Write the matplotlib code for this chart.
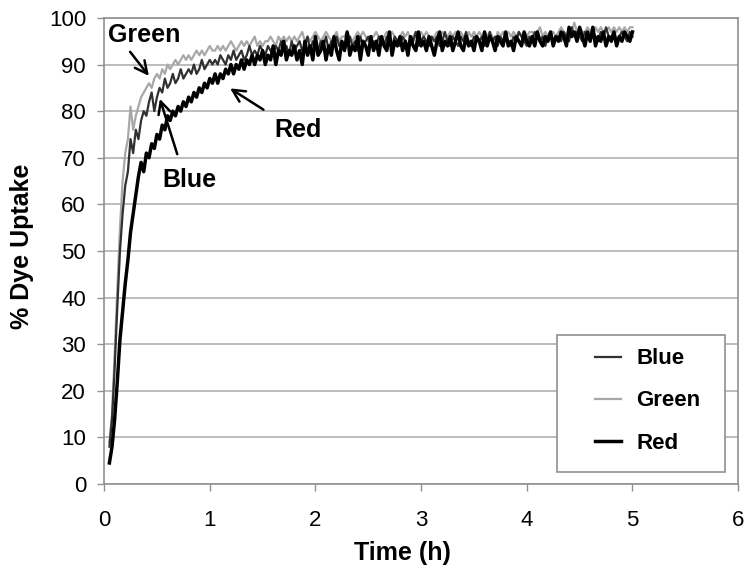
import numpy as np
import matplotlib
matplotlib.use('Agg')
import matplotlib.pyplot as plt
from matplotlib.patches import Rectangle

plt.rcParams['font.family'] = ['Liberation Sans', 'DejaVu Sans']

# sampling times (h), one reading every 0.025 h
time_h = np.round(0.05 + 0.025 * np.arange(199), 3)

blue = [
    8, 14, 25, 38, 50, 58, 64, 67, 74, 71,
    76, 74, 78, 80, 79, 82, 84, 80, 83, 85,
    84, 87, 85, 86, 88, 86, 87, 89, 87, 88,
    89, 88, 90, 88, 89, 91, 89, 90, 91, 90,
    91, 90, 92, 91, 90, 92, 91, 93, 91, 92,
    93, 91, 92, 94, 92, 93, 92, 94, 93, 92,
    94, 93, 92, 94, 93, 95, 93, 94, 92, 95,
    93, 94, 95, 93, 94, 96, 93, 95, 94, 93,
    95, 94, 96, 93, 95, 94, 96, 94, 95, 93,
    95, 96, 94, 95, 93, 96, 94, 95, 96, 94,
    95, 94, 96, 95, 94, 96, 95, 94, 96, 95,
    94, 96, 95, 94, 96, 95, 97, 94, 95, 96,
    95, 94, 96, 95, 96, 94, 95, 97, 95, 94,
    96, 95, 94, 96, 95, 97, 95, 94, 96, 95,
    95, 96, 94, 95, 97, 95, 96, 94, 96, 95,
    96, 95, 94, 96, 95, 97, 96, 95, 94, 96,
    95, 97, 96, 95, 96, 94, 96, 97, 95, 96,
    96, 95, 97, 96, 95, 98, 96, 97, 96, 95,
    97, 96, 95, 97, 96, 95, 97, 96, 98, 96,
    96, 97, 95, 96, 97, 96, 95, 97, 96,
]

green = [
    9, 15, 28, 42, 55, 65, 71, 74, 81, 76,
    79, 81, 83, 84, 85, 86, 85, 87, 88, 87,
    89, 88, 90, 89, 90, 91, 90, 91, 92, 91,
    92, 91, 92, 93, 92, 93, 92, 93, 94, 93,
    93, 94, 93, 94, 93, 94, 95, 94, 93, 94,
    95, 94, 95, 94, 95, 96, 94, 95, 94, 95,
    95, 96, 95, 94, 96, 95, 96, 95, 96, 95,
    96, 95, 96, 97, 95, 96, 95, 96, 97, 96,
    95, 96, 97, 96, 95, 96, 97, 95, 96, 96,
    97, 96, 95, 96, 97, 96, 97, 96, 95, 96,
    96, 97, 96, 95, 96, 97, 96, 97, 96, 95,
    96, 97, 96, 97, 95, 96, 97, 96, 97, 96,
    97, 96, 95, 96, 97, 96, 97, 96, 96, 97,
    96, 97, 96, 97, 96, 95, 97, 96, 97, 96,
    97, 96, 97, 96, 97, 96, 95, 97, 96, 97,
    96, 97, 96, 97, 96, 97, 96, 97, 96, 97,
    97, 96, 97, 98, 96, 97, 96, 97, 97, 96,
    97, 98, 97, 96, 98, 97, 99, 97, 98, 97,
    97, 98, 97, 96, 98, 97, 98, 97, 97, 98,
    97, 98, 97, 98, 97, 98, 97, 98, 98,
]

red = [
    4.5, 8, 14, 22, 31, 37, 43, 48, 54, 58,
    62, 66, 69, 67, 71, 70, 73, 72, 75, 74,
    77, 76, 79, 78, 80, 79, 81, 80, 82, 81,
    83, 82, 84, 83, 85, 84, 86, 85, 87, 86,
    88, 86, 88, 87, 89, 88, 90, 88, 90, 89,
    91, 89, 91, 90, 92, 90, 92, 91, 93, 90,
    92, 91, 94, 90, 93, 92, 95, 91, 93, 92,
    94, 91, 93, 90, 95, 92, 94, 91, 96, 92,
    93, 95, 91, 94, 92, 96, 93, 91, 95, 93,
    97, 92, 94, 93, 96, 91, 95, 94, 92, 96,
    93, 95, 92, 96, 94, 93, 97, 92, 95, 94,
    96, 93, 95, 92, 96, 94, 93, 97, 94, 95,
    93, 96, 94, 92, 95, 97, 93, 95, 94, 96,
    93, 95, 97, 94, 93, 96, 94, 95, 93, 96,
    95, 93, 97, 94, 96, 95, 93, 96, 95, 94,
    97, 94, 95, 93, 96, 95, 94, 97, 95, 94,
    96, 94, 97, 95, 94, 96, 95, 97, 94, 96,
    95, 97, 96, 94, 98, 96, 97, 95, 98, 96,
    94, 97, 95, 98, 94, 96, 95, 97, 94, 96,
    95, 97, 94, 96, 95, 97, 96, 95, 97,
]

fig = plt.figure(figsize=(7.49, 5.70), dpi=100)
ax = fig.add_axes([0.139, 0.151, 0.8465, 0.8175])

ax.plot(time_h, blue, color='#303030', lw=1.6, label='Blue', zorder=3)
ax.plot(time_h, green, color='#a8a8a8', lw=1.6, label='Green', zorder=2)
ax.plot(time_h, red, color='black', lw=2.5, label='Red', zorder=4)

ax.set_xlim(0, 6)
ax.set_ylim(0, 100)
ax.set_xticks(range(0, 7))
ax.set_yticks(range(0, 101, 10))
ax.yaxis.grid(True, color='#b0b0b0', lw=1.2)
ax.set_axisbelow(True)
for s in ax.spines.values():
    s.set_color('#909090')
    s.set_linewidth(1.2)
ax.tick_params(colors='#909090', labelcolor='black', labelsize=16, length=5, width=1)
ax.tick_params(axis='x', pad=14)
ax.tick_params(axis='y', pad=8)

ax.set_xlabel('Time (h)', fontsize=18, fontweight='bold')
ax.xaxis.set_label_coords(0.47, -0.122)
ax.set_ylabel('% Dye Uptake', fontsize=18, fontweight='bold')
ax.yaxis.set_label_coords(-0.11, 0.51)

# callouts
arrow = dict(arrowstyle='->', color='black', lw=1.8, mutation_scale=22)
ax.annotate('', xy=(0.44, 87.1), xytext=(0.23, 93.2), arrowprops=arrow)
ax.text(0.38, 96.4, 'Green', fontsize=18, fontweight='bold', ha='center', va='center')
ax.annotate('', xy=(0.52, 83.2), xytext=(0.70, 70.2), arrowprops=arrow)
ax.text(0.81, 65.2, 'Blue', fontsize=18, fontweight='bold', ha='center', va='center')
ax.annotate('', xy=(1.17, 85.2), xytext=(1.53, 80.0), arrowprops=arrow)
ax.text(1.84, 76, 'Red', fontsize=18, fontweight='bold', ha='center', va='center')

# legend box drawn separately (wider left padding, as in the original)
ax.add_patch(Rectangle((0.7145, 0.0258), 0.265, 0.2939, transform=ax.transAxes,
                       facecolor='white', edgecolor='#909090', lw=1.2, zorder=5))
leg = ax.legend(loc='center', bbox_to_anchor=(0.858, 0.178), frameon=False,
                handlelength=1.15, labelspacing=0.95, borderpad=0, handletextpad=0.7,
                borderaxespad=0, prop={'size': 16, 'weight': 'bold'})
leg.set_zorder(6)

fig.savefig('out.png', dpi=100)
